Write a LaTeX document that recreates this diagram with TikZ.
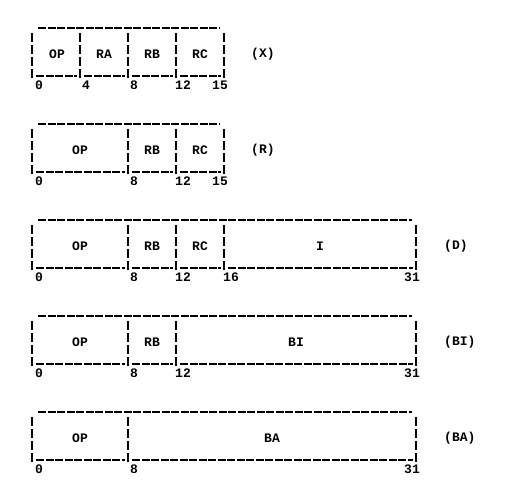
\documentclass[tikz,border=0pt]{standalone}
\usepackage{fontspec}
\setmonofont{Liberation Mono}
\tikzset{
  bar/.style={line width=1.6pt, dash pattern=on 9pt off 3pt},
  rule/.style={line width=1.4pt, dash pattern=on 8pt off 1.5pt},
  field/.style={font=\ttfamily\bfseries\fontsize{13}{13}\selectfont, inner sep=0pt},
  bitnum/.style={field, anchor=west},
  bitend/.style={field, anchor=east},
  tag/.style={field, anchor=west},
}
\begin{document}
\begin{tikzpicture}[x=1pt,y=-1pt]
\useasboundingbox (0,0) rectangle (516,486);

% format X
\begin{scope}[shift={(0,28)}]
\draw[rule] (38,0) -- (220,0);
\draw[bar] (32,5) -- (32,52);
\draw[bar] (80,5) -- (80,52);
\draw[bar] (128,5) -- (128,52);
\draw[bar] (176,5) -- (176,52);
\draw[bar] (224,5) -- (224,52);
\draw[rule] (36,48) -- (77,48);
\draw[rule] (84,48) -- (125,48);
\draw[rule] (132,48) -- (173,48);
\draw[rule] (180,48) -- (221,48);
\node[field] (opX) at (57,26) {OP};
\node[field] (raX) at (104,26) {RA};
\node[field] (rbX) at (152,26) {RB};
\node[field] (rcX) at (200,26) {RC};
\node[bitnum] (nX0) at (35,57) {0};
\node[bitnum] (nX4) at (82,57) {4};
\node[bitnum] (nX8) at (130,57) {8};
\node[bitnum] (nX12) at (175,57) {12};
\node[bitend] (nX15) at (228,57) {15};
\node[tag] (tagX) at (251,26) {(X)};
\end{scope}

% format R
\begin{scope}[shift={(0,124)}]
\draw[rule] (38,0) -- (220,0);
\draw[bar] (32,5) -- (32,52);
\draw[bar] (128,5) -- (128,52);
\draw[bar] (176,5) -- (176,52);
\draw[bar] (224,5) -- (224,52);
\draw[rule] (36,48) -- (125,48);
\draw[rule] (132,48) -- (173,48);
\draw[rule] (180,48) -- (221,48);
\node[field] (opR) at (80,26) {OP};
\node[field] (rbR) at (152,26) {RB};
\node[field] (rcR) at (200,26) {RC};
\node[bitnum] (nR0) at (35,57) {0};
\node[bitnum] (nR8) at (130,57) {8};
\node[bitnum] (nR12) at (175,57) {12};
\node[bitend] (nR15) at (228,57) {15};
\node[tag] (tagR) at (251,26) {(R)};
\end{scope}

% format D
\begin{scope}[shift={(0,220)}]
\draw[rule] (38,0) -- (412,0);
\draw[bar] (32,5) -- (32,52);
\draw[bar] (128,5) -- (128,52);
\draw[bar] (176,5) -- (176,52);
\draw[bar] (224,5) -- (224,52);
\draw[bar] (416,5) -- (416,52);
\draw[rule] (36,48) -- (125,48);
\draw[rule] (132,48) -- (173,48);
\draw[rule] (180,48) -- (221,48);
\draw[rule] (228,48) -- (413,48);
\node[field] (opD) at (80,26) {OP};
\node[field] (rbD) at (152,26) {RB};
\node[field] (rcD) at (200,26) {RC};
\node[field] (iD) at (320,26) {I};
\node[bitnum] (nD0) at (35,57) {0};
\node[bitnum] (nD8) at (130,57) {8};
\node[bitnum] (nD12) at (175,57) {12};
\node[bitnum] (nD16) at (223,57) {16};
\node[bitend] (nD31) at (420,57) {31};
\node[tag] (tagD) at (444,26) {(D)};
\end{scope}

% format BI
\begin{scope}[shift={(0,316)}]
\draw[rule] (38,0) -- (412,0);
\draw[bar] (32,5) -- (32,52);
\draw[bar] (128,5) -- (128,52);
\draw[bar] (176,5) -- (176,52);
\draw[bar] (416,5) -- (416,52);
\draw[rule] (36,48) -- (125,48);
\draw[rule] (132,48) -- (173,48);
\draw[rule] (180,48) -- (413,48);
\node[field] (opBI) at (80,26) {OP};
\node[field] (rbBI) at (152,26) {RB};
\node[field] (biBI) at (296,26) {BI};
\node[bitnum] (nBI0) at (35,57) {0};
\node[bitnum] (nBI8) at (130,57) {8};
\node[bitnum] (nBI12) at (175,57) {12};
\node[bitend] (nBI31) at (420,57) {31};
\node[tag] (tagBI) at (444,26) {(BI)};
\end{scope}

% format BA
\begin{scope}[shift={(0,412)}]
\draw[rule] (38,0) -- (412,0);
\draw[bar] (32,5) -- (32,52);
\draw[bar] (128,5) -- (128,52);
\draw[bar] (416,5) -- (416,52);
\draw[rule] (36,48) -- (125,48);
\draw[rule] (132,48) -- (413,48);
\node[field] (opBA) at (80,26) {OP};
\node[field] (baBA) at (272,26) {BA};
\node[bitnum] (nBA0) at (35,57) {0};
\node[bitnum] (nBA8) at (130,57) {8};
\node[bitend] (nBA31) at (420,57) {31};
\node[tag] (tagBA) at (444,26) {(BA)};
\end{scope}
\end{tikzpicture}
\end{document}
